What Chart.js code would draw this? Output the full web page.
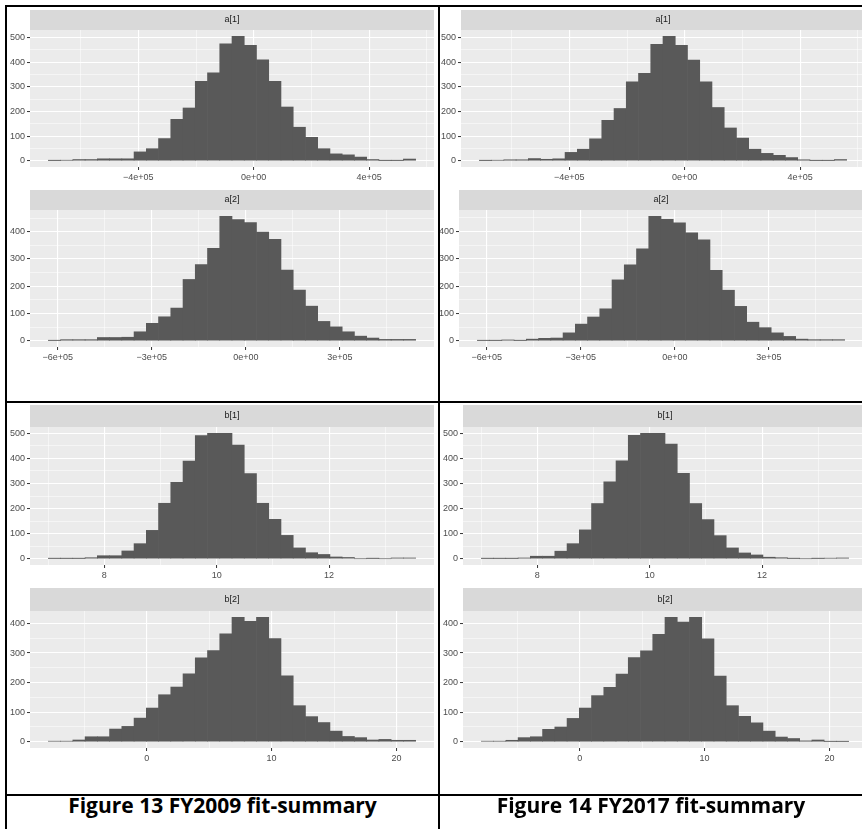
<!DOCTYPE html>
<html>
<head>
<meta charset="utf-8">
<script src="https://cdn.jsdelivr.net/npm/chart.js@4.4.0/dist/chart.umd.min.js"></script>
<style>
  html, body { margin: 0; padding: 0; background: #fff; overflow: hidden; }
  body { position: relative; width: 862px; height: 829px; }
  canvas { position: absolute; }
  .linea { position: absolute; background: #000; z-index: 5; }
  .leyenda { position: absolute; top: 795px; height: 34px; line-height: 21px; font-size: 21px; text-align: center;
             font-family: 'Open Sans', Lato, sans-serif; font-weight: bold; color: #000; z-index: 4; white-space: nowrap; }
</style>
</head>
<body>
<div class="linea" style="left:5px;top:5px;width:857px;height:2px"></div>
<div class="linea" style="left:5px;top:5px;width:2px;height:824px"></div>
<div class="linea" style="left:438px;top:5px;width:2px;height:824px"></div>
<div class="linea" style="left:5px;top:401px;width:857px;height:2px"></div>
<div class="linea" style="left:5px;top:794px;width:857px;height:2px"></div>
<div class="leyenda" style="left:7px;width:431px">Figure 13 FY2009 fit-summary</div>
<div class="leyenda" style="left:440px;width:422px">Figure 14 FY2017 fit-summary</div>

<script>
// === Conteos por bin (30 bins) FY2009 ===
const conteosA1_2009 = [1, 2, 5, 5, 8, 8, 8, 36, 49, 90, 168, 214, 322, 357, 474, 505, 468, 409, 322, 218, 136, 95, 49, 28, 24, 15, 5, 1, 1, 7];
const conteosA2_2009 = [1, 4, 4, 4, 12, 12, 13, 33, 64, 88, 120, 225, 280, 339, 457, 445, 434, 399, 372, 259, 186, 127, 71, 51, 33, 17, 10, 5, 5, 5];
const conteosB1_2009 = [1, 1, 1, 4, 12, 12, 31, 60, 113, 221, 304, 389, 491, 500, 500, 453, 339, 221, 157, 93, 43, 24, 17, 7, 5, 0, 1, 0, 3, 3];
const conteosB2_2009 = [2, 2, 6, 17, 17, 43, 52, 80, 114, 159, 185, 230, 284, 308, 365, 421, 407, 421, 349, 223, 122, 85, 65, 36, 18, 14, 6, 8, 5, 5];

// === Conteos por bin (30 bins) FY2017 ===
const conteosA1_2017 = [1, 2, 4, 4, 9, 6, 8, 34, 47, 89, 164, 212, 320, 355, 472, 505, 468, 408, 320, 216, 133, 92, 47, 30, 22, 13, 4, 1, 1, 5];
const conteosA2_2017 = [1, 1, 3, 1, 6, 9, 10, 29, 61, 87, 117, 223, 278, 337, 456, 445, 432, 395, 370, 258, 185, 126, 68, 48, 29, 16, 6, 4, 4, 4];
const conteosB1_2017 = [1, 1, 1, 3, 10, 10, 30, 60, 115, 220, 306, 390, 492, 500, 500, 457, 340, 220, 156, 92, 43, 23, 15, 6, 4, 1, 0, 1, 2, 3];
const conteosB2_2017 = [2, 2, 5, 14, 17, 42, 50, 79, 114, 156, 184, 229, 285, 307, 363, 421, 405, 421, 348, 222, 122, 86, 64, 36, 16, 11, 3, 6, 1, 1];

// === Bins: [primer borde, ancho] ===
const binsA1 = [-712000, 42450];
const binsA2 = [-630000, 39070];
const binsB1 = [7.004, 0.2179];
const binsB2 = [-7.87, 0.98];

// === Ticks del eje x ===
const ticksA1 = [-400000, 0, 400000];
const etiquetasA1 = ['\u22124e+05', '0e+00', '4e+05'];
const menoresA1 = [-600000, -200000, 200000, 600000];
const ticksA2 = [-600000, -300000, 0, 300000];
const etiquetasA2 = ['\u22126e+05', '\u22123e+05', '0e+00', '3e+05'];
const menoresA2 = [-450000, -150000, 150000, 450000];
const ticksB1 = [8, 10, 12];
const etiquetasB1 = ['8', '10', '12'];
const menoresB1 = [7, 9, 11, 13];
const ticksB2 = [0, 10, 20];
const etiquetasB2 = ['0', '10', '20'];
const menoresB2 = [-5, 5, 15];

// === Ticks del eje y ===
const ticksY = [0, 100, 200, 300, 400, 500];
const menoresY = [50, 150, 250, 350, 450];

// === Plugin: fondo del panel + tira del facet (estilo ggplot) ===
const panelGgplot = {
  id: 'panelGgplot',
  beforeDraw(chart, args, opts) {
    const { ctx, chartArea: a } = chart;
    ctx.save();
    ctx.fillStyle = '#EBEBEB';
    ctx.fillRect(a.left, a.top, a.right - a.left, a.bottom - a.top);
    ctx.fillStyle = '#D9D9D9';
    ctx.fillRect(a.left, a.top - opts.alto, a.right - a.left, opts.alto);
    ctx.fillStyle = '#1A1A1A';
    ctx.font = '9px "Liberation Sans", Arial, sans-serif';
    ctx.textAlign = 'center';
    ctx.textBaseline = 'middle';
    ctx.fillText(opts.texto, (a.left + a.right) / 2, a.top - opts.alto / 2);
    ctx.restore();
  }
};

const fuenteTicks = { family: '"Liberation Sans", Arial, sans-serif', size: 9 };

// Une ticks mayores y menores dentro del rango
function armarTicks(mayores, menores, min, max) {
  const lista = mayores.map(v => ({ value: v, esMayor: true }))
    .concat(menores.map(v => ({ value: v, esMayor: false })));
  return lista.filter(t => t.value >= min && t.value <= max).sort((p, q) => p.value - q.value);
}

function ejeGgplot(mayores, etiquetas, menores, min, max, esX) {
  return {
    type: 'linear',
    offset: false,
    min: min,
    max: max,
    grid: {
      offset: false,
      color: '#FFFFFF',
      lineWidth: ctx => (ctx.tick && ctx.tick.esMayor ? 1.1 : 0.5),
      tickColor: ctx => (ctx.tick && ctx.tick.esMayor ? '#333333' : 'rgba(0,0,0,0)'),
      tickLength: 3,
      tickWidth: 1
    },
    border: { display: false },
    ticks: {
      autoSkip: false,
      maxRotation: 0,
      minRotation: 0,
      padding: 2,
      color: '#4D4D4D',
      font: fuenteTicks,
      callback: (valor) => {
        const i = mayores.indexOf(valor);
        return i >= 0 ? etiquetas[i] : '';
      }
    },
    afterBuildTicks: (escala) => {
      escala.ticks = armarTicks(mayores, menores, min, max);
    },
    afterFit: (escala) => {
      if (esX) escala.height = 22;
      else escala.width = 30;
    }
  };
}

function crearHistograma(p) {
  const canvas = document.createElement('canvas');
  canvas.width = 434;
  canvas.height = p.tira + p.alto + 22;
  canvas.style.left = p.x + 'px';
  canvas.style.top = p.y + 'px';
  document.body.appendChild(canvas);

  const [borde, ancho] = p.bins;
  const n = p.conteos.length;
  const xMin = borde - 0.05 * n * ancho;
  const xMax = borde + 1.05 * n * ancho;
  const maxConteo = Math.max(...p.conteos);
  const yMin = -0.05 * maxConteo;
  const yMax = 1.05 * maxConteo;

  new Chart(canvas, {
    type: 'bar',
    data: {
      datasets: [{
        data: p.conteos.map((c, i) => ({ x: borde + (i + 0.5) * ancho, y: c })),
        backgroundColor: '#595959',
        borderWidth: 0,
        barPercentage: 1,
        categoryPercentage: 1
      }]
    },
    options: {
      responsive: false,
      animation: false,
      devicePixelRatio: 1,
      layout: { padding: { top: p.tira, left: 0, right: 0, bottom: 0 } },
      plugins: {
        legend: { display: false },
        tooltip: { enabled: false },
        panelGgplot: { texto: p.texto, alto: p.tira }
      },
      scales: {
        x: ejeGgplot(p.mayores, p.etiquetas, p.menores, xMin, xMax, true),
        y: ejeGgplot(ticksY, ticksY.map(String), menoresY, yMin, yMax, false)
      }
    },
    plugins: [panelGgplot]
  });
}

// === Paneles (columna izquierda FY2009, derecha FY2017) ===
const paneles = [
  { x: 0,   y: 10,  tira: 20, alto: 137, texto: 'a[1]', conteos: conteosA1_2009, bins: binsA1, mayores: ticksA1, etiquetas: etiquetasA1, menores: menoresA1 },
  { x: 0,   y: 190, tira: 20, alto: 137, texto: 'a[2]', conteos: conteosA2_2009, bins: binsA2, mayores: ticksA2, etiquetas: etiquetasA2, menores: menoresA2 },
  { x: 0,   y: 405, tira: 22, alto: 138, texto: 'b[1]', conteos: conteosB1_2009, bins: binsB1, mayores: ticksB1, etiquetas: etiquetasB1, menores: menoresB1 },
  { x: 0,   y: 588, tira: 23, alto: 137, texto: 'b[2]', conteos: conteosB2_2009, bins: binsB2, mayores: ticksB2, etiquetas: etiquetasB2, menores: menoresB2 },
  { x: 431, y: 10,  tira: 20, alto: 137, texto: 'a[1]', conteos: conteosA1_2017, bins: binsA1, mayores: ticksA1, etiquetas: etiquetasA1, menores: menoresA1 },
  { x: 429, y: 190, tira: 20, alto: 137, texto: 'a[2]', conteos: conteosA2_2017, bins: binsA2, mayores: ticksA2, etiquetas: etiquetasA2, menores: menoresA2 },
  { x: 433, y: 405, tira: 22, alto: 138, texto: 'b[1]', conteos: conteosB1_2017, bins: binsB1, mayores: ticksB1, etiquetas: etiquetasB1, menores: menoresB1 },
  { x: 433, y: 588, tira: 23, alto: 137, texto: 'b[2]', conteos: conteosB2_2017, bins: binsB2, mayores: ticksB2, etiquetas: etiquetasB2, menores: menoresB2 }
];

paneles.forEach(crearHistograma);
</script>
</body>
</html>
